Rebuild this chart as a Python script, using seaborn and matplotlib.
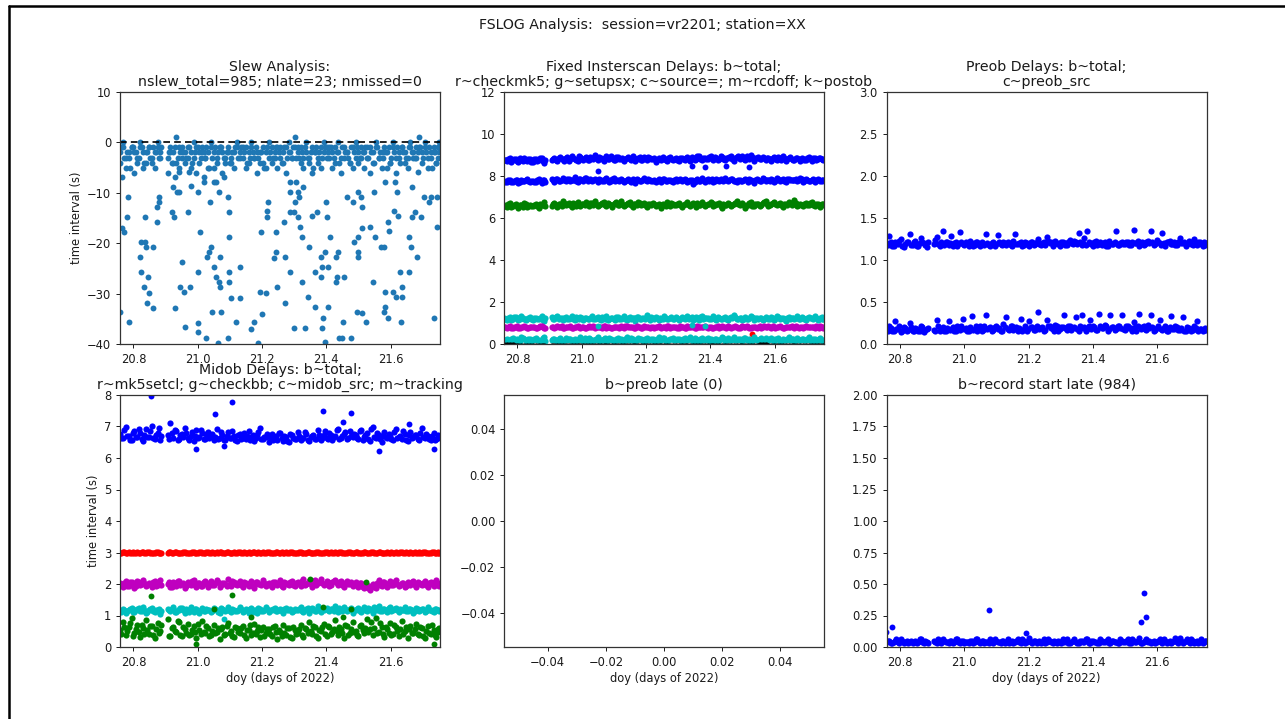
import numpy as np
import matplotlib
matplotlib.use("Agg")
import matplotlib.pyplot as plt
from matplotlib.lines import Line2D
import seaborn as sns

# ---------------- data ----------------
# scan times (doy) shared by the dense per-scan series (two interleaved sets)
scan_doy = [
    20.758, 20.767, 20.776, 20.785, 20.794, 20.803, 20.812, 20.821, 20.830, 20.839,
    20.848, 20.857, 20.866, 20.875, 20.884, 20.906, 20.915, 20.924, 20.933, 20.942,
    20.951, 20.960, 20.969, 20.978, 20.987, 20.996, 21.005, 21.014, 21.023, 21.032,
    21.041, 21.050, 21.059, 21.068, 21.077, 21.086, 21.095, 21.104, 21.113, 21.122,
    21.131, 21.140, 21.149, 21.158, 21.167, 21.176, 21.185, 21.194, 21.203, 21.212,
    21.221, 21.230, 21.239, 21.248, 21.257, 21.266, 21.275, 21.284, 21.293, 21.302,
    21.311, 21.320, 21.329, 21.338, 21.347, 21.356, 21.365, 21.374, 21.383, 21.392,
    21.401, 21.410, 21.419, 21.428, 21.437, 21.446, 21.455, 21.464, 21.473, 21.482,
    21.491, 21.500, 21.509, 21.518, 21.527, 21.536, 21.545, 21.554, 21.563, 21.572,
    21.581, 21.590, 21.599, 21.608, 21.617, 21.626, 21.635, 21.644, 21.653, 21.662,
    21.671, 21.680, 21.689, 21.698, 21.707, 21.716, 21.725, 21.734, 21.743, 21.752]
scan_doy_b = [
    20.762, 20.771, 20.780, 20.789, 20.798, 20.807, 20.816, 20.825, 20.834, 20.843,
    20.852, 20.861, 20.870, 20.879, 20.887, 20.910, 20.919, 20.928, 20.937, 20.946,
    20.955, 20.964, 20.973, 20.982, 20.991, 21.000, 21.009, 21.018, 21.027, 21.036,
    21.045, 21.054, 21.063, 21.072, 21.081, 21.090, 21.099, 21.108, 21.117, 21.126,
    21.135, 21.144, 21.153, 21.162, 21.171, 21.180, 21.189, 21.198, 21.207, 21.216,
    21.225, 21.234, 21.243, 21.252, 21.261, 21.270, 21.279, 21.288, 21.297, 21.306,
    21.315, 21.324, 21.333, 21.342, 21.351, 21.360, 21.369, 21.378, 21.387, 21.396,
    21.405, 21.414, 21.423, 21.432, 21.441, 21.450, 21.459, 21.468, 21.477, 21.486,
    21.495, 21.504, 21.513, 21.522, 21.531, 21.540, 21.549, 21.558, 21.567, 21.576,
    21.585, 21.594, 21.603, 21.612, 21.621, 21.630, 21.639, 21.648, 21.657, 21.666,
    21.675, 21.684, 21.693, 21.702, 21.711, 21.720, 21.729, 21.738, 21.747, 21.749]

# Slew analysis: slack (s) per slew
slew_band1 = [
    -2, -1, -3, -2, -1, -2, -3, -1, -2, -4,
    -1, -3, -2, -1, -2, -3, -1, -2, -4, -1,
    -3, -2, -1, -2, -3, -1, -2, -1, -3, -2,
    -1, -2, -3, -1, -2, -4, -1, -3, -2, -1,
    -2, -3, -1, -2, -1, -3, -2, -4, -1, -2,
    -3, -1, -2, -1, -3, -2, -1, -2, -3, -1,
    -2, -1, -3, -2, -4, -1, -2, -3, -1, -2,
    -1, -3, -2, -1, -2, -3, -1, -2, -4, -1,
    -3, -2, -1, -2, -3, -1, -2, -1, -3, -2,
    -1, -2, -4, -1, -3, -2, -1, -2, -3, -1,
    -2, -3, -1, -2, -1, -3, -2, -1, -4, -2]
slew_band2 = [
    -4, 0, -5, -3, -1, -6, -4, 0, -5, -2,
    -1, -4, -5, 0, -3, -6, -2, -4, 1, -5,
    -1, -4, -3, -5, 0, -6, -4, -2, -3, -5,
    0, -5, -4, -1, -6, -3, -2, -4, -5, 0,
    -3, -1, -5, -4, 0, -3, -6, -2, -4, -5,
    0, -4, -3, -5, -1, -4, -6, 0, -3, 1,
    -1, -4, -5, 0, -3, -6, -2, -4, -5, 0,
    -3, -1, -5, -4, 0, -6, -3, -2, -4, -5,
    0, -4, -3, -5, -1, -6, -4, 0, -3, -5,
    -2, -5, -4, 0, -6, -3, -1, -4, -5, 0,
    -3, -1, 1, -4, 0, -5, -3, -2, -4, 0]
slew_band3 = [
    -1, -3, -2, -5, -1, -2, -3, -1, -4, -2,
    -3, -1, -2, -3, -1, -2, -4, -1, -3, -2,
    -2, -3, -1, -4, -2, -1, -3, -2, -1, -5,
    -3, -1, -2, -1, -3, -2, -4, -2, -1, -3,
    -1, -2, -4, -3, -2, -1, -3, -2, -5, -1,
    -2, -3, -1, -2, -4, -1, -3, -2, -1, -3,
    -3, -2, -1, -3, -2, -5, -1, -2, -3, -1,
    -2, -1, -3, -2, -4, -1, -2, -3, -1, -2,
    -1, -3, -2, -1, -3, -2, -4, -1, -2, -3,
    -2, -1, -3, -2, -1, -4, -2, -3, -1, -2,
    -3, -2, -1, -3, -2, -1, -5, -2, -3, -1]
slew_late_doy = [
    20.763, 20.772, 20.784, 20.779, 20.759, 20.787, 20.823, 20.837, 20.839, 20.860,
    20.819, 20.822, 20.834, 20.841, 20.846, 20.847, 20.860, 20.836, 20.872, 20.872,
    20.878, 20.878, 20.919, 20.925, 20.922, 20.934, 20.941, 20.928, 20.951, 20.944,
    20.958, 20.961, 20.971, 20.979, 20.977, 21.002, 21.002, 21.007, 21.000, 21.002,
    21.026, 21.029, 21.034, 21.040, 21.044, 21.052, 21.058, 21.065, 21.068, 21.070,
    21.062, 21.073, 21.096, 21.097, 21.093, 21.037, 21.052, 21.067, 21.095, 21.097,
    21.098, 21.102, 21.119, 21.133, 21.131, 21.166, 21.174, 21.193, 21.197, 21.220,
    21.217, 21.215, 21.201, 21.187, 21.213, 21.243, 21.246, 20.763, 20.930, 20.943,
    20.974, 21.019, 21.021, 21.058, 21.083, 21.286, 21.306, 21.286, 21.313, 21.314,
    21.327, 21.303, 21.286, 21.299, 21.313, 21.317, 21.270, 21.244, 21.324, 21.346,
    21.272, 21.286, 21.272, 21.324, 21.343, 21.301, 21.335, 21.366, 21.366, 21.384,
    21.386, 21.405, 21.384, 21.395, 21.389, 21.386, 21.395, 21.405, 21.400, 21.403,
    21.412, 21.372, 21.356, 21.429, 21.438, 21.434, 21.455, 21.431, 21.452, 21.449,
    21.478, 21.466, 21.483, 21.499, 21.508, 21.512, 21.510, 21.487, 21.499, 21.499,
    21.499, 21.535, 21.497, 21.512, 21.523, 21.547, 21.552, 21.569, 21.579, 21.548,
    21.582, 21.592, 21.594, 21.610, 21.622, 21.619, 21.614, 21.584, 21.582, 21.579,
    21.591, 21.607, 21.617, 21.637, 21.632, 21.637, 21.631, 21.659, 21.665, 21.659,
    21.683, 21.667, 21.675, 21.695, 21.667, 21.687, 21.704, 21.719, 21.727, 21.746,
    21.746, 21.734, 21.441, 21.237]
slew_late_val = [
    -17.0, -17.7, -10.8, -14.9, -33.7, -35.6, -19.8, -19.8, -20.8, -20.8,
    -22.8, -25.7, -28.7, -31.8, -26.7, -29.8, -32.8, -14.9, -15.8, -12.9,
    -11.9, -10.8, -13.9, -14.9, -8.8, -9.8, -9.8, -32.8, -23.8, -28.6,
    -29.7, -36.6, -13.9, -8.7, -28.7, -37.6, -35.8, -17.7, -9.8, -25.7,
    -38.8, -22.8, -21.8, -20.8, -33.7, -24.8, -26.7, -27.7, -28.7, -22.8,
    -39.8, -33.7, -25.7, -27.7, -38.8, -11.8, -7.9, -9.8, -10.8, -13.9,
    -18.7, -30.8, -35.6, -30.8, -24.8, -37.0, -35.6, -29.7, -17.7, -11.8,
    -13.7, -14.9, -34.0, -39.8, -29.9, -17.7, -28.7, -6.8, -6.8, -5.8,
    -5.9, -6.8, -7.8, -7.8, -6.8, -7.8, -7.8, -9.8, -9.8, -10.8,
    -8.8, -11.9, -13.9, -13.9, -14.9, -16.7, -15.8, -21.8, -18.8, -20.8,
    -22.8, -25.7, -31.8, -27.7, -30.7, -36.8, -36.8, -32.7, -25.7, -26.7,
    -24.8, -24.8, -22.8, -21.7, -34.9, -36.8, -39.6, -32.7, -11.9, -14.9,
    -18.8, -13.9, -14.7, -22.8, -21.8, -26.7, -26.7, -27.7, -35.6, -38.8,
    -38.8, -10.9, -11.9, -9.9, -10.8, -12.9, -16.9, -19.7, -18.7, -21.8,
    -22.8, -16.7, -33.7, -33.9, -35.6, -27.7, -18.8, -20.8, -20.8, -9.8,
    -7.8, -15.8, -17.5, -13.7, -14.7, -9.9, -7.8, -29.7, -32.7, -33.7,
    -34.9, -29.7, -30.7, -30.7, -35.6, -28.7, -25.7, -25.7, -20.8, -18.8,
    -22.8, -14.9, -13.9, -14.9, -8.8, -5.8, -10.9, -11.9, -10.9, -10.9,
    -16.7, -34.9, -38.8, -22.9]

# Fixed interscan delays (s)
fixed_total_hi = [
    8.78, 8.70, 8.85, 8.74, 8.81, 8.68, 8.77, 8.86, 8.72, 8.80,
    8.69, 8.83, 8.75, 8.88, 8.62, 8.76, 8.84, 8.71, 8.90, 8.79,
    8.86, 8.73, 8.95, 8.81, 8.70, 8.89, 8.77, 8.92, 8.74, 8.85,
    8.98, 8.78, 8.87, 8.72, 8.93, 8.80, 8.86, 8.75, 8.91, 8.82,
    8.73, 8.88, 8.79, 8.94, 8.71, 8.84, 8.77, 8.90, 8.74, 8.86,
    8.80, 8.69, 8.87, 8.76, 8.83, 8.72, 8.89, 8.78, 8.85, 8.70,
    8.84, 8.77, 8.91, 8.73, 8.86, 8.79, 8.94, 8.75, 8.88, 8.81,
    8.96, 8.74, 8.87, 8.80, 8.92, 8.76, 8.85, 8.97, 8.73, 8.89,
    8.82, 8.93, 8.75, 8.88, 8.99, 8.70, 8.86, 8.79, 8.91, 8.74,
    8.85, 8.72, 8.89, 8.78, 8.84, 8.95, 8.71, 8.87, 8.80, 8.76,
    8.88, 8.73, 8.83, 8.77, 8.90, 8.72, 8.86, 8.79, 8.84, 8.75]
fixed_total_hi_b = [
    8.74, 8.82, 8.69, 8.79, 8.72, 8.84, 8.70, 8.77, 8.81, 8.68,
    8.80, 8.73, 8.86, 8.71, 8.78, 8.83, 8.75, 8.88, 8.80, 8.73,
    8.90, 8.79, 8.84, 8.76, 8.93, 8.82, 8.87, 8.78, 8.91, 8.80,
    8.85, 8.92, 8.79, 8.88, 8.82, 8.95, 8.77, 8.89, 8.83, 8.87,
    8.80, 8.91, 8.76, 8.86, 8.81, 8.89, 8.78, 8.84, 8.92, 8.79,
    8.85, 8.76, 8.82, 8.90, 8.74, 8.86, 8.80, 8.83, 8.77, 8.88,
    8.79, 8.86, 8.82, 8.90, 8.78, 8.93, 8.81, 8.86, 8.79, 8.91,
    8.84, 8.89, 8.78, 8.94, 8.82, 8.87, 8.91, 8.80, 8.86, 8.93,
    8.87, 8.80, 8.95, 8.83, 8.90, 8.85, 8.92, 8.81, 8.88, 8.84,
    8.79, 8.87, 8.82, 8.91, 8.77, 8.86, 8.83, 8.90, 8.78, 8.85,
    8.81, 8.88, 8.76, 8.85, 8.80, 8.87, 8.78, 8.84, 8.79, 8.82]
fixed_total_lo = [
    7.76, 7.70, 7.83, 7.72, 7.79, 7.68, 7.81, 7.74, 7.86, 7.71,
    7.78, 7.73, 7.84, 7.69, 7.80, 7.88, 7.72, 7.85, 7.77, 7.91,
    7.74, 7.86, 7.79, 7.93, 7.71, 7.84, 7.76, 7.89, 7.82, 7.75,
    7.87, 7.73, 7.83, 7.78, 7.92, 7.70, 7.85, 7.76, 7.81, 7.88,
    7.72, 7.80, 7.75, 7.86, 7.69, 7.83, 7.77, 7.90, 7.74, 7.82,
    7.78, 7.71, 7.85, 7.73, 7.88, 7.76, 7.81, 7.70, 7.84, 7.79,
    7.74, 7.87, 7.72, 7.83, 7.64, 7.80, 7.76, 7.89, 7.73, 7.85,
    7.79, 7.71, 7.86, 7.75, 7.82, 7.92, 7.74, 7.84, 7.78, 7.70,
    7.83, 7.76, 7.88, 7.72, 7.81, 7.69, 7.85, 7.77, 7.90, 7.74,
    7.80, 7.86, 7.73, 7.91, 7.75, 7.84, 7.71, 7.87, 7.79, 7.83,
    7.76, 7.89, 7.72, 7.85, 7.78, 7.82, 7.70, 7.86, 7.74, 7.80]
fixed_total_lo_b = [
    7.73, 7.79, 7.70, 7.76, 7.82, 7.71, 7.77, 7.80, 7.74, 7.78,
    7.72, 7.81, 7.75, 7.79, 7.71, 7.80, 7.86, 7.76, 7.83, 7.79,
    7.88, 7.78, 7.83, 7.75, 7.86, 7.80, 7.90, 7.77, 7.84, 7.81,
    7.79, 7.84, 7.76, 7.87, 7.81, 7.78, 7.89, 7.80, 7.75, 7.83,
    7.78, 7.85, 7.73, 7.81, 7.88, 7.76, 7.82, 7.79, 7.86, 7.77,
    7.82, 7.75, 7.80, 7.87, 7.78, 7.83, 7.74, 7.81, 7.76, 7.85,
    7.79, 7.83, 7.76, 7.80, 7.72, 7.84, 7.78, 7.82, 7.80, 7.77,
    7.84, 7.78, 7.81, 7.88, 7.76, 7.83, 7.79, 7.86, 7.74, 7.80,
    7.77, 7.82, 7.79, 7.85, 7.75, 7.80, 7.83, 7.78, 7.84, 7.81,
    7.76, 7.83, 7.78, 7.85, 7.80, 7.77, 7.88, 7.79, 7.82, 7.86,
    7.80, 7.84, 7.77, 7.82, 7.75, 7.86, 7.79, 7.81, 7.78, 7.83]
fixed_setupsx = [
    6.62, 6.51, 6.70, 6.55, 6.66, 6.48, 6.60, 6.72, 6.53, 6.64,
    6.57, 6.69, 6.50, 6.63, 6.75, 6.58, 6.71, 6.54, 6.67, 6.80,
    6.60, 6.73, 6.52, 6.68, 6.78, 6.56, 6.65, 6.74, 6.59, 6.70,
    6.82, 6.55, 6.66, 6.76, 6.58, 6.69, 6.51, 6.72, 6.63, 6.79,
    6.57, 6.68, 6.74, 6.54, 6.65, 6.77, 6.60, 6.71, 6.52, 6.66,
    6.73, 6.58, 6.69, 6.49, 6.64, 6.75, 6.56, 6.67, 6.61, 6.72,
    6.54, 6.66, 6.78, 6.59, 6.70, 6.52, 6.63, 6.74, 6.57, 6.68,
    6.76, 6.55, 6.65, 6.71, 6.50, 6.62, 6.73, 6.58, 6.69, 6.79,
    6.61, 6.72, 6.47, 6.64, 6.75, 6.56, 6.68, 6.59, 6.70, 6.81,
    6.57, 6.67, 6.74, 6.60, 6.71, 6.53, 6.66, 6.78, 6.62, 6.84,
    6.58, 6.69, 6.55, 6.73, 6.63, 6.76, 6.59, 6.68, 6.54, 6.65]
fixed_setupsx_b = [
    6.58, 6.66, 6.54, 6.61, 6.57, 6.64, 6.52, 6.67, 6.59, 6.56,
    6.63, 6.55, 6.66, 6.60, 6.58, 6.65, 6.61, 6.68, 6.57, 6.71,
    6.66, 6.62, 6.70, 6.58, 6.64, 6.69, 6.61, 6.67, 6.73, 6.63,
    6.68, 6.61, 6.72, 6.64, 6.70, 6.62, 6.66, 6.75, 6.60, 6.69,
    6.64, 6.71, 6.60, 6.67, 6.63, 6.70, 6.65, 6.62, 6.69, 6.61,
    6.67, 6.63, 6.60, 6.68, 6.58, 6.65, 6.70, 6.62, 6.66, 6.64,
    6.61, 6.69, 6.64, 6.66, 6.60, 6.71, 6.63, 6.67, 6.62, 6.65,
    6.70, 6.63, 6.68, 6.58, 6.66, 6.64, 6.69, 6.61, 6.72, 6.65,
    6.67, 6.62, 6.60, 6.70, 6.55, 6.65, 6.68, 6.63, 6.74, 6.66,
    6.62, 6.71, 6.65, 6.68, 6.63, 6.69, 6.60, 6.73, 6.66, 6.70,
    6.64, 6.61, 6.67, 6.63, 6.70, 6.62, 6.66, 6.60, 6.68, 6.64]
fixed_source_hi = [
    1.25, 1.15, 1.30, 1.19, 1.27, 1.12, 1.33, 1.21, 1.17, 1.29,
    1.14, 1.26, 1.20, 1.31, 1.10, 1.28, 1.18, 1.35, 1.22, 1.13,
    1.27, 1.19, 1.32, 1.15, 1.24, 1.30, 1.12, 1.26, 1.21, 1.34,
    1.17, 1.28, 1.13, 1.25, 1.31, 1.19, 1.23, 1.14, 1.29, 1.20,
    1.33, 1.16, 1.27, 1.22, 1.11, 1.30, 1.18, 1.25, 1.36, 1.15,
    1.24, 1.29, 1.13, 1.21, 1.32, 1.17, 1.26, 1.20, 1.30, 1.14,
    1.27, 1.19, 1.34, 1.23, 1.12, 1.28, 1.16, 1.31, 1.22, 1.25,
    1.18, 1.33, 1.14, 1.26, 1.21, 1.30, 1.15, 1.28, 1.37, 1.20,
    1.24, 1.12, 1.29, 1.19, 1.32, 1.16, 1.26, 1.22, 1.13, 1.30,
    1.21, 1.27, 1.15, 1.33, 1.18, 1.25, 1.11, 1.29, 1.23, 1.17,
    1.31, 1.20, 1.26, 1.14, 1.28, 1.22, 1.34, 1.16, 1.25, 1.19]
fixed_source_hi_b = [
    1.20, 1.24, 1.16, 1.27, 1.22, 1.18, 1.25, 1.14, 1.23, 1.20,
    1.26, 1.18, 1.23, 1.16, 1.24, 1.21, 1.29, 1.19, 1.25, 1.22,
    1.18, 1.25, 1.21, 1.28, 1.17, 1.22, 1.26, 1.19, 1.24, 1.20,
    1.23, 1.19, 1.27, 1.21, 1.16, 1.24, 1.20, 1.28, 1.18, 1.25,
    1.21, 1.26, 1.18, 1.23, 1.28, 1.20, 1.24, 1.17, 1.22, 1.27,
    1.19, 1.23, 1.26, 1.18, 1.24, 1.21, 1.29, 1.17, 1.23, 1.20,
    1.25, 1.22, 1.18, 1.27, 1.20, 1.24, 1.29, 1.19, 1.26, 1.21,
    1.23, 1.19, 1.28, 1.21, 1.25, 1.17, 1.24, 1.22, 1.27, 1.20,
    1.26, 1.21, 1.19, 1.24, 1.28, 1.22, 1.18, 1.25, 1.20, 1.23,
    1.18, 1.24, 1.21, 1.27, 1.22, 1.19, 1.26, 1.20, 1.25, 1.23,
    1.21, 1.27, 1.19, 1.24, 1.22, 1.18, 1.25, 1.21, 1.28, 1.20]
fixed_rcdoff = [
    0.80, 0.76, 0.84, 0.78, 0.82, 0.75, 0.81, 0.85, 0.77, 0.83,
    0.79, 0.74, 0.82, 0.86, 0.78, 0.81, 0.76, 0.84, 0.80, 0.77,
    0.83, 0.79, 0.75, 0.82, 0.86, 0.78, 0.81, 0.77, 0.84, 0.80,
    0.76, 0.83, 0.79, 0.85, 0.78, 0.81, 0.74, 0.82, 0.80, 0.86,
    0.77, 0.84, 0.79, 0.81, 0.75, 0.83, 0.78, 0.86, 0.80, 0.76,
    0.82, 0.79, 0.85, 0.77, 0.81, 0.84, 0.76, 0.80, 0.83, 0.78,
    0.81, 0.75, 0.84, 0.79, 0.86, 0.77, 0.82, 0.80, 0.85, 0.76,
    0.83, 0.78, 0.81, 0.74, 0.84, 0.80, 0.86, 0.77, 0.82, 0.79,
    0.76, 0.85, 0.80, 0.83, 0.78, 0.81, 0.75, 0.84, 0.79, 0.82,
    0.86, 0.77, 0.81, 0.79, 0.84, 0.76, 0.82, 0.80, 0.85, 0.78,
    0.80, 0.83, 0.77, 0.84, 0.79, 0.81, 0.75, 0.82, 0.86, 0.78]
fixed_rcdoff_b = [
    0.79, 0.83, 0.77, 0.81, 0.84, 0.78, 0.82, 0.80, 0.76, 0.83,
    0.81, 0.78, 0.84, 0.80, 0.77, 0.83, 0.79, 0.82, 0.85, 0.78,
    0.80, 0.84, 0.78, 0.81, 0.79, 0.83, 0.77, 0.82, 0.80, 0.85,
    0.79, 0.82, 0.76, 0.84, 0.81, 0.78, 0.83, 0.80, 0.77, 0.82,
    0.84, 0.79, 0.82, 0.77, 0.85, 0.80, 0.78, 0.83, 0.81, 0.79,
    0.77, 0.83, 0.80, 0.82, 0.78, 0.85, 0.79, 0.81, 0.76, 0.84,
    0.80, 0.78, 0.83, 0.81, 0.77, 0.84, 0.79, 0.82, 0.80, 0.83,
    0.78, 0.82, 0.85, 0.79, 0.81, 0.77, 0.83, 0.80, 0.84, 0.78,
    0.82, 0.79, 0.84, 0.77, 0.81, 0.83, 0.80, 0.78, 0.85, 0.79,
    0.81, 0.84, 0.78, 0.82, 0.80, 0.77, 0.83, 0.79, 0.81, 0.84,
    0.78, 0.81, 0.83, 0.79, 0.82, 0.80, 0.84, 0.77, 0.81, 0.80]
fixed_source_lo = [
    0.18, 0.25, 0.12, 0.28, 0.20, 0.15, 0.31, 0.22, 0.10, 0.26,
    0.17, 0.29, 0.21, 0.13, 0.33, 0.19, 0.24, 0.11, 0.27, 0.16,
    0.30, 0.22, 0.14, 0.26, 0.18, 0.32, 0.12, 0.23, 0.28, 0.15,
    0.21, 0.34, 0.17, 0.25, 0.11, 0.29, 0.20, 0.14, 0.27, 0.23,
    0.16, 0.31, 0.19, 0.24, 0.13, 0.28, 0.22, 0.10, 0.30, 0.18,
    0.25, 0.15, 0.33, 0.20, 0.27, 0.12, 0.23, 0.29, 0.17, 0.26,
    0.14, 0.28, 0.21, 0.32, 0.16, 0.24, 0.11, 0.27, 0.19, 0.30,
    0.22, 0.13, 0.26, 0.18, 0.31, 0.15, 0.29, 0.20, 0.35, 0.17,
    0.24, 0.12, 0.28, 0.21, 0.16, 0.33, 0.19, 0.25, 0.14, 0.27,
    0.20, 0.30, 0.15, 0.23, 0.11, 0.26, 0.18, 0.32, 0.22, 0.13,
    0.28, 0.17, 0.25, 0.20, 0.31, 0.14, 0.24, 0.19, 0.27, 0.16]
fixed_source_lo_b = [
    0.21, 0.14, 0.26, 0.18, 0.23, 0.12, 0.27, 0.17, 0.22, 0.15,
    0.24, 0.19, 0.13, 0.28, 0.16, 0.22, 0.19, 0.25, 0.14, 0.21,
    0.17, 0.26, 0.20, 0.15, 0.24, 0.18, 0.27, 0.13, 0.22, 0.19,
    0.25, 0.16, 0.21, 0.28, 0.18, 0.23, 0.15, 0.26, 0.20, 0.12,
    0.22, 0.18, 0.27, 0.15, 0.21, 0.24, 0.17, 0.26, 0.19, 0.23,
    0.16, 0.22, 0.19, 0.27, 0.14, 0.21, 0.25, 0.18, 0.23, 0.20,
    0.26, 0.17, 0.23, 0.19, 0.28, 0.15, 0.22, 0.20, 0.25, 0.16,
    0.19, 0.24, 0.15, 0.22, 0.27, 0.18, 0.21, 0.26, 0.17, 0.23,
    0.20, 0.27, 0.18, 0.24, 0.13, 0.22, 0.19, 0.28, 0.21, 0.16,
    0.25, 0.18, 0.22, 0.27, 0.16, 0.21, 0.24, 0.19, 0.26, 0.20,
    0.17, 0.23, 0.20, 0.26, 0.18, 0.22, 0.15, 0.24, 0.21, 0.19]
fixed_postob = [
    -0.03, -0.04, -0.05, -0.03, -0.08, -0.09, -0.10, -0.08, -0.09, -0.10,
    -0.09, -0.08, -0.10, -0.09, -0.08, -0.10, -0.09, -0.08, -0.10, -0.09,
    -0.08, -0.10, -0.09, -0.08, -0.10, -0.09, -0.08, -0.10, -0.09, -0.08,
    -0.10, -0.09, -0.08, -0.10, -0.09, -0.08, -0.10, -0.09, -0.08, -0.10,
    -0.09, -0.08, -0.10, -0.09, -0.08, -0.10, -0.09, -0.08, -0.10, -0.09,
    -0.08, -0.10, -0.09, -0.08, -0.10, -0.09, -0.08, -0.10, -0.09, -0.08,
    -0.10, -0.09, -0.08, -0.10, -0.09, -0.08, -0.10, -0.09, -0.08, -0.10,
    -0.09, -0.08, -0.10, -0.09, -0.08, -0.10, -0.09, -0.08, -0.10, -0.09,
    -0.08, -0.10, -0.09, -0.08, -0.10, -0.09, -0.08, -0.03, -0.04, -0.03,
    -0.10, -0.09, -0.08, -0.10, -0.09, -0.08, -0.10, -0.09, -0.08, -0.10,
    -0.09, -0.08, -0.10, -0.09, -0.08, -0.10, -0.09, -0.08, -0.10, -0.09]
fixed_total_out_doy = [21.050, 21.344, 21.385, 21.450, 21.520]
fixed_total_out_val = [8.25, 8.48, 8.41, 8.48, 8.41]
fixed_source_out_doy = [21.050, 21.344, 21.385]
fixed_source_out_val = [0.84, 0.90, 0.85]
fixed_checkmk5_doy = [21.530]
fixed_checkmk5_val = [0.46]

# Preob delays (s)
preob_total = [
    1.20, 1.28, 1.17, 1.22, 1.19, 1.25, 1.16, 1.21, 1.31, 1.18,
    1.23, 1.17, 1.26, 1.20, 1.16, 1.19, 1.27, 1.17, 1.34, 1.21,
    1.18, 1.29, 1.20, 1.17, 1.33, 1.19, 1.22, 1.17, 1.20, 1.18,
    1.21, 1.17, 1.19, 1.31, 1.18, 1.20, 1.17, 1.30, 1.19, 1.22,
    1.18, 1.20, 1.17, 1.31, 1.19, 1.21, 1.18, 1.20, 1.17, 1.22,
    1.19, 1.25, 1.18, 1.21, 1.27, 1.20, 1.17, 1.23, 1.19, 1.22,
    1.20, 1.18, 1.24, 1.19, 1.21, 1.32, 1.18, 1.26, 1.34, 1.20,
    1.17, 1.23, 1.19, 1.18, 1.21, 1.17, 1.20, 1.19, 1.34, 1.18,
    1.21, 1.19, 1.22, 1.18, 1.36, 1.20, 1.17, 1.21, 1.19, 1.23,
    1.34, 1.18, 1.24, 1.20, 1.32, 1.17, 1.21, 1.19, 1.22, 1.18,
    1.26, 1.20, 1.17, 1.23, 1.19, 1.25, 1.18, 1.21, 1.17, 1.20]
preob_total_b = [
    1.18, 1.22, 1.17, 1.20, 1.23, 1.17, 1.19, 1.22, 1.18, 1.21,
    1.17, 1.20, 1.22, 1.18, 1.21, 1.24, 1.19, 1.21, 1.18, 1.22,
    1.20, 1.17, 1.22, 1.19, 1.21, 1.18, 1.20, 1.23, 1.17, 1.21,
    1.19, 1.22, 1.18, 1.20, 1.17, 1.21, 1.19, 1.22, 1.18, 1.20,
    1.21, 1.18, 1.23, 1.19, 1.20, 1.17, 1.22, 1.19, 1.21, 1.18,
    1.22, 1.19, 1.20, 1.18, 1.23, 1.21, 1.19, 1.20, 1.17, 1.22,
    1.18, 1.21, 1.20, 1.23, 1.19, 1.22, 1.20, 1.18, 1.21, 1.19,
    1.22, 1.18, 1.21, 1.20, 1.17, 1.23, 1.19, 1.21, 1.18, 1.20,
    1.19, 1.22, 1.18, 1.21, 1.20, 1.23, 1.19, 1.18, 1.22, 1.20,
    1.21, 1.19, 1.22, 1.18, 1.20, 1.21, 1.23, 1.19, 1.18, 1.21,
    1.20, 1.22, 1.19, 1.21, 1.18, 1.20, 1.22, 1.19, 1.21, 1.18]
preob_src = [
    0.17, 0.22, 0.15, 0.27, 0.18, 0.14, 0.20, 0.16, 0.25, 0.15,
    0.19, 0.16, 0.21, 0.14, 0.18, 0.17, 0.29, 0.15, 0.20, 0.16,
    0.27, 0.18, 0.15, 0.21, 0.17, 0.30, 0.19, 0.16, 0.33, 0.18,
    0.15, 0.22, 0.17, 0.35, 0.19, 0.16, 0.20, 0.18, 0.15, 0.24,
    0.32, 0.17, 0.21, 0.19, 0.16, 0.30, 0.18, 0.15, 0.27, 0.20,
    0.17, 0.38, 0.19, 0.16, 0.29, 0.21, 0.18, 0.23, 0.15, 0.20,
    0.35, 0.17, 0.22, 0.19, 0.32, 0.16, 0.35, 0.20, 0.18, 0.28,
    0.21, 0.17, 0.36, 0.19, 0.23, 0.16, 0.34, 0.20, 0.18, 0.22,
    0.35, 0.17, 0.21, 0.19, 0.26, 0.16, 0.36, 0.20, 0.18, 0.23,
    0.34, 0.15, 0.19, 0.28, 0.17, 0.21, 0.16, 0.33, 0.18, 0.20,
    0.17, 0.32, 0.15, 0.19, 0.16, 0.21, 0.27, 0.18, 0.15, 0.17]
preob_src_b = [
    0.16, 0.19, 0.15, 0.18, 0.21, 0.16, 0.19, 0.17, 0.20, 0.16,
    0.18, 0.15, 0.20, 0.17, 0.19, 0.16, 0.21, 0.18, 0.16, 0.19,
    0.17, 0.20, 0.16, 0.19, 0.22, 0.18, 0.16, 0.20, 0.17, 0.21,
    0.19, 0.16, 0.21, 0.18, 0.20, 0.17, 0.22, 0.19, 0.16, 0.20,
    0.18, 0.21, 0.17, 0.20, 0.19, 0.16, 0.22, 0.18, 0.20, 0.17,
    0.21, 0.18, 0.20, 0.17, 0.22, 0.19, 0.16, 0.21, 0.18, 0.20,
    0.19, 0.22, 0.17, 0.20, 0.18, 0.21, 0.19, 0.16, 0.22, 0.18,
    0.20, 0.17, 0.21, 0.19, 0.22, 0.18, 0.20, 0.17, 0.21, 0.19,
    0.18, 0.21, 0.19, 0.16, 0.20, 0.22, 0.18, 0.21, 0.17, 0.19,
    0.20, 0.17, 0.21, 0.18, 0.19, 0.16, 0.20, 0.18, 0.21, 0.17,
    0.19, 0.16, 0.20, 0.18, 0.17, 0.19, 0.16, 0.18, 0.17, 0.19]

# Midob delays (s)
midob_total = [
    6.75, 6.62, 6.98, 6.70, 6.58, 6.85, 6.66, 6.79, 6.55, 6.92,
    6.68, 7.02, 6.61, 6.80, 6.57, 6.72, 7.10, 6.64, 6.86, 6.59,
    6.76, 6.95, 6.63, 6.70, 6.54, 6.88, 6.67, 6.78, 6.60, 6.83,
    6.69, 6.56, 6.92, 6.65, 6.74, 6.58, 6.81, 6.62, 6.71, 6.53,
    6.77, 6.64, 6.59, 6.85, 6.68, 6.55, 6.73, 6.96, 6.61, 6.66,
    6.52, 6.75, 6.63, 6.58, 6.79, 6.55, 6.68, 6.50, 6.72, 6.60,
    6.83, 6.57, 6.65, 6.76, 6.54, 6.69, 6.61, 6.88, 6.58, 6.73,
    6.64, 6.80, 6.56, 6.70, 6.93, 6.62, 6.75, 6.59, 6.86, 6.67,
    6.72, 6.60, 6.90, 6.66, 6.78, 6.55, 6.98, 6.63, 6.74, 6.52,
    6.81, 6.64, 6.70, 6.57, 6.93, 6.68, 6.61, 6.76, 6.55, 6.84,
    6.66, 6.72, 6.58, 6.95, 6.63, 6.70, 6.56, 6.79, 6.61, 6.67]
midob_total_b = [
    6.62, 6.88, 6.70, 6.57, 6.80, 6.66, 6.93, 6.60, 6.74, 6.68,
    6.85, 6.63, 6.72, 6.95, 6.69, 6.61, 6.78, 6.88, 6.56, 6.73,
    6.66, 6.79, 6.58, 6.84, 6.71, 6.62, 6.90, 6.59, 6.75, 6.64,
    6.77, 6.68, 6.60, 6.82, 6.57, 6.70, 6.63, 6.86, 6.58, 6.72,
    6.61, 6.78, 6.70, 6.56, 6.74, 6.63, 6.82, 6.59, 6.68, 6.76,
    6.66, 6.58, 6.71, 6.80, 6.62, 6.69, 6.55, 6.77, 6.64, 6.59,
    6.70, 6.63, 6.81, 6.58, 6.67, 6.74, 6.60, 6.72, 6.65, 6.85,
    6.59, 6.72, 6.66, 6.88, 6.61, 6.69, 6.83, 6.64, 6.71, 6.76,
    6.63, 6.85, 6.58, 6.74, 6.60, 6.92, 6.66, 6.78, 6.61, 6.70,
    6.67, 6.76, 6.60, 6.82, 6.63, 6.71, 6.87, 6.58, 6.74, 6.65,
    6.72, 6.59, 6.80, 6.66, 6.75, 6.61, 6.69, 6.57, 6.73, 6.62]
midob_mk5setcl = [
    3.00, 3.02, 2.99, 3.01, 3.00, 2.98, 3.02, 3.00, 3.01, 2.99,
    3.01, 3.00, 2.98, 3.02, 3.00, 2.99, 3.01, 3.00, 3.02, 2.98,
    3.00, 3.01, 2.99, 3.00, 3.02, 2.98, 3.01, 3.00, 2.99, 3.02,
    2.99, 3.00, 3.02, 3.01, 2.98, 3.00, 3.01, 2.99, 3.02, 3.00,
    3.01, 2.98, 3.00, 3.02, 2.99, 3.01, 3.00, 2.98, 3.01, 3.00,
    3.02, 3.00, 2.99, 3.01, 3.00, 2.98, 3.02, 3.00, 3.01, 2.99,
    3.00, 3.02, 2.98, 3.00, 3.01, 2.99, 3.00, 3.02, 3.00, 2.98,
    3.01, 3.00, 2.99, 3.02, 3.00, 3.01, 2.98, 3.00, 3.01, 2.99,
    3.02, 3.00, 2.98, 3.01, 3.00, 2.99, 3.02, 3.00, 3.01, 2.98,
    3.00, 3.01, 2.99, 3.00, 3.02, 2.98, 3.01, 3.00, 2.99, 3.02,
    3.00, 2.98, 3.01, 3.00, 3.02, 2.99, 3.00, 3.01, 2.98, 3.00]
midob_mk5setcl_b = [
    2.99, 3.01, 3.00, 2.98, 3.02, 3.00, 2.99, 3.01, 3.00, 3.02,
    3.00, 2.99, 3.01, 3.00, 2.98, 3.02, 3.00, 3.01, 2.99, 3.00,
    3.02, 2.99, 3.00, 3.01, 2.98, 3.00, 3.02, 2.99, 3.01, 3.00,
    3.01, 2.98, 3.00, 3.02, 2.99, 3.01, 3.00, 2.98, 3.00, 3.02,
    2.99, 3.01, 3.00, 2.98, 3.02, 3.00, 3.01, 2.99, 3.00, 3.02,
    3.00, 2.98, 3.01, 3.00, 3.02, 2.99, 3.00, 3.01, 2.98, 3.00,
    3.02, 3.00, 2.99, 3.01, 3.00, 2.98, 3.02, 3.00, 2.99, 3.01,
    3.00, 3.02, 2.98, 3.00, 3.01, 2.99, 3.00, 3.02, 3.00, 2.98,
    3.01, 2.99, 3.00, 3.02, 2.98, 3.01, 3.00, 2.99, 3.02, 3.00,
    2.98, 3.00, 3.01, 2.99, 3.00, 3.02, 2.98, 3.01, 3.00, 2.99,
    3.01, 3.00, 2.99, 3.02, 3.00, 2.98, 3.01, 3.00, 3.02, 2.99]
midob_tracking = [
    2.02, 1.90, 2.10, 1.95, 2.05, 1.88, 2.08, 1.97, 2.12, 1.93,
    2.04, 1.91, 2.09, 1.96, 2.13, 1.99, 1.89, 2.07, 1.94, 2.11,
    2.01, 1.87, 2.06, 1.98, 2.14, 1.92, 2.03, 1.95, 2.10, 1.90,
    2.08, 1.96, 2.12, 1.89, 2.04, 1.99, 2.15, 1.93, 2.06, 1.97,
    2.11, 1.91, 2.02, 1.95, 2.09, 1.88, 2.05, 2.00, 2.13, 1.94,
    2.03, 1.90, 2.07, 1.96, 2.12, 1.92, 2.04, 1.98, 2.10, 1.93,
    2.06, 1.95, 2.15, 1.99, 2.08, 1.91, 2.13, 2.02, 2.16, 1.96,
    2.10, 1.93, 2.05, 2.14, 1.97, 2.09, 1.92, 2.11, 2.00, 1.95,
    2.07, 1.90, 2.03, 1.86, 1.98, 1.82, 2.01, 1.88, 2.12, 1.94,
    2.05, 1.91, 2.09, 1.97, 2.13, 1.93, 2.02, 1.89, 2.07, 1.96,
    2.11, 1.92, 2.04, 1.98, 2.10, 1.90, 2.06, 1.95, 2.12, 1.93]
midob_tracking_b = [
    1.98, 2.04, 1.93, 2.07, 2.00, 1.95, 2.06, 1.99, 2.03, 1.96,
    2.01, 2.07, 1.94, 2.03, 1.98, 2.05, 1.92, 2.02, 2.08, 1.97,
    2.04, 1.95, 2.01, 2.09, 1.97, 2.03, 1.93, 2.06, 1.99, 2.04,
    1.96, 2.02, 2.07, 1.98, 2.04, 1.94, 2.01, 2.08, 1.99, 2.03,
    1.97, 2.05, 1.99, 2.02, 1.95, 2.06, 2.00, 1.96, 2.04, 2.01,
    1.98, 2.06, 2.00, 2.03, 1.94, 2.05, 1.99, 2.07, 1.97, 2.02,
    2.00, 2.09, 1.96, 2.04, 2.01, 2.11, 1.98, 2.06, 2.03, 2.00,
    2.05, 1.98, 2.09, 2.02, 2.06, 1.97, 2.03, 1.99, 2.07, 2.01,
    1.96, 2.04, 1.91, 1.99, 1.88, 1.95, 1.92, 2.02, 1.97, 2.05,
    1.99, 2.03, 1.96, 2.06, 2.00, 1.97, 2.04, 1.95, 2.01, 2.05,
    1.98, 2.06, 1.99, 2.03, 1.96, 2.04, 2.00, 2.07, 1.97, 2.02]
midob_src = [
    1.15, 1.22, 1.08, 1.18, 1.25, 1.10, 1.20, 1.13, 1.27, 1.09,
    1.17, 1.24, 1.11, 1.19, 1.06, 1.21, 1.14, 1.26, 1.10, 1.18,
    1.23, 1.09, 1.16, 1.28, 1.12, 1.20, 1.07, 1.25, 1.14, 1.19,
    1.11, 1.24, 1.17, 1.08, 1.22, 1.13, 1.27, 1.10, 1.19, 1.15,
    1.26, 1.12, 1.20, 1.09, 1.23, 1.16, 1.07, 1.21, 1.14, 1.28,
    1.10, 1.18, 1.25, 1.13, 1.21, 1.08, 1.24, 1.16, 1.11, 1.22,
    1.19, 1.27, 1.12, 1.20, 1.09, 1.23, 1.15, 1.29, 1.11, 1.18,
    1.24, 1.13, 1.21, 1.30, 1.10, 1.19, 1.26, 1.14, 1.22, 1.08,
    1.17, 1.25, 1.12, 1.28, 1.15, 1.21, 1.09, 1.24, 1.31, 1.13,
    1.20, 1.10, 1.26, 1.16, 1.23, 1.11, 1.19, 1.27, 1.13, 1.21,
    1.08, 1.24, 1.15, 1.20, 1.12, 1.26, 1.17, 1.10, 1.22, 1.14]
midob_src_b = [
    1.12, 1.19, 1.14, 1.21, 1.10, 1.17, 1.23, 1.15, 1.19, 1.12,
    1.20, 1.14, 1.17, 1.22, 1.13, 1.16, 1.20, 1.11, 1.18, 1.23,
    1.16, 1.20, 1.12, 1.18, 1.22, 1.15, 1.19, 1.13, 1.21, 1.17,
    1.14, 1.20, 1.12, 1.23, 1.16, 1.19, 1.13, 1.21, 1.15, 1.18,
    1.20, 1.15, 1.17, 1.22, 1.12, 1.19, 1.24, 1.14, 1.18, 1.21,
    1.16, 1.21, 1.13, 1.19, 1.15, 1.22, 1.17, 1.20, 1.14, 1.18,
    1.22, 1.15, 1.19, 1.24, 1.16, 1.20, 1.13, 1.23, 1.17, 1.21,
    1.18, 1.22, 1.15, 1.20, 1.25, 1.14, 1.21, 1.17, 1.24, 1.16,
    1.20, 1.14, 1.22, 1.18, 1.23, 1.16, 1.26, 1.19, 1.15, 1.21,
    1.17, 1.23, 1.14, 1.20, 1.16, 1.22, 1.18, 1.15, 1.21, 1.19,
    1.13, 1.20, 1.17, 1.22, 1.15, 1.19, 1.14, 1.21, 1.16, 1.18]
midob_checkbb = [
    0.55, 0.80, 0.38, 0.65, 0.92, 0.45, 0.70, 0.33, 0.60, 0.85,
    0.42, 0.68, 0.30, 0.75, 0.50, 0.88, 0.36, 0.62, 0.47, 0.78,
    0.35, 0.58, 0.72, 0.40, 0.66, 0.29, 0.54, 0.83, 0.44, 0.61,
    0.37, 0.70, 0.48, 0.26, 0.63, 0.41, 0.77, 0.52, 0.32, 0.59,
    0.45, 0.68, 0.28, 0.55, 0.39, 0.73, 0.50, 0.31, 0.62, 0.43,
    0.57, 0.34, 0.66, 0.24, 0.49, 0.71, 0.38, 0.60, 0.30, 0.53,
    0.44, 0.69, 0.33, 0.58, 0.80, 0.40, 0.64, 0.27, 0.51, 0.74,
    0.36, 0.62, 0.47, 0.85, 0.39, 0.56, 0.30, 0.67, 0.45, 0.78,
    0.52, 0.34, 0.70, 0.43, 0.88, 0.58, 0.38, 0.92, 0.49, 0.64,
    0.31, 0.57, 0.75, 0.42, 0.63, 0.35, 0.82, 0.50, 0.29, 0.68,
    0.46, 0.72, 0.37, 0.59, 0.28, 0.66, 0.41, 0.54, 0.33, 0.61]
midob_checkbb_b = [
    0.42, 0.63, 0.51, 0.77, 0.36, 0.58, 0.47, 0.69, 0.40, 0.55,
    0.66, 0.39, 0.57, 0.44, 0.71, 0.34, 0.60, 0.52, 0.81, 0.38,
    0.63, 0.46, 0.37, 0.55, 0.49, 0.74, 0.41, 0.48, 0.66, 0.36,
    0.52, 0.44, 0.61, 0.57, 0.38, 0.67, 0.45, 0.35, 0.62, 0.48,
    0.60, 0.37, 0.53, 0.70, 0.46, 0.42, 0.64, 0.55, 0.36, 0.58,
    0.41, 0.62, 0.48, 0.55, 0.36, 0.44, 0.59, 0.33, 0.65, 0.40,
    0.57, 0.38, 0.61, 0.45, 0.50, 0.66, 0.35, 0.54, 0.62, 0.42,
    0.68, 0.41, 0.58, 0.52, 0.63, 0.44, 0.71, 0.39, 0.56, 0.48,
    0.37, 0.66, 0.55, 0.61, 0.47, 0.80, 0.59, 0.44, 0.75, 0.40,
    0.62, 0.45, 0.38, 0.69, 0.51, 0.58, 0.41, 0.64, 0.56, 0.43,
    0.58, 0.40, 0.63, 0.35, 0.52, 0.45, 0.69, 0.38, 0.57, 0.47]
midob_total_out_doy = [20.853, 21.055, 21.107, 21.389, 21.478, 20.995, 21.564, 21.735, 21.083, 21.452, 21.659]
midob_total_out_val = [7.97, 7.39, 7.79, 7.48, 7.43, 6.29, 6.21, 6.29, 6.39, 7.15, 7.08]
midob_checkbb_out_doy = [20.853, 21.107, 21.052, 21.389, 21.348, 21.525, 20.995, 21.735, 21.478, 21.452, 21.166]
midob_checkbb_out_val = [1.62, 1.64, 1.20, 1.28, 2.17, 2.05, 0.10, 0.10, 1.22, 0.96, 0.94]
midob_src_out_doy = [21.083]
midob_src_out_val = [0.88]

# Record start late (s)
record_late = [
    0.04, 0.05, 0.03, 0.05, 0.04, 0.06, 0.03, 0.05, 0.04, 0.03,
    0.05, 0.04, 0.06, 0.03, 0.04, 0.05, 0.03, 0.04, 0.06, 0.04,
    0.03, 0.05, 0.04, 0.06, 0.03, 0.05, 0.04, 0.03, 0.05, 0.04,
    0.06, 0.03, 0.05, 0.04, 0.03, 0.05, 0.06, 0.04, 0.03, 0.05,
    0.04, 0.03, 0.05, 0.04, 0.06, 0.03, 0.05, 0.04, 0.07, 0.03,
    0.05, 0.04, 0.03, 0.06, 0.04, 0.05, 0.03, 0.04, 0.05, 0.03,
    0.04, 0.06, 0.03, 0.05, 0.04, 0.03, 0.05, 0.04, 0.06, 0.03,
    0.05, 0.04, 0.03, 0.05, 0.04, 0.06, 0.03, 0.05, 0.04, 0.03,
    0.05, 0.04, 0.06, 0.03, 0.05, 0.04, 0.07, 0.03, 0.05, 0.04,
    0.03, 0.05, 0.04, 0.06, 0.03, 0.05, 0.04, 0.03, 0.05, 0.04,
    0.07, 0.03, 0.05, 0.04, 0.06, 0.03, 0.05, 0.04, 0.03, 0.05]
record_late_b = [
    0.05, 0.03, 0.04, 0.06, 0.03, 0.05, 0.04, 0.03, 0.05, 0.04,
    0.03, 0.06, 0.04, 0.05, 0.03, 0.04, 0.06, 0.03, 0.05, 0.04,
    0.05, 0.03, 0.06, 0.04, 0.05, 0.03, 0.04, 0.05, 0.03, 0.06,
    0.04, 0.05, 0.03, 0.04, 0.06, 0.03, 0.05, 0.04, 0.05, 0.03,
    0.06, 0.04, 0.03, 0.05, 0.04, 0.06, 0.03, 0.05, 0.04, 0.05,
    0.03, 0.05, 0.04, 0.03, 0.06, 0.04, 0.05, 0.03, 0.04, 0.06,
    0.05, 0.03, 0.04, 0.06, 0.03, 0.05, 0.04, 0.06, 0.03, 0.05,
    0.04, 0.03, 0.06, 0.04, 0.05, 0.03, 0.05, 0.04, 0.03, 0.06,
    0.04, 0.05, 0.03, 0.06, 0.04, 0.05, 0.03, 0.04, 0.06, 0.05,
    0.04, 0.03, 0.05, 0.04, 0.06, 0.03, 0.05, 0.04, 0.07, 0.03,
    0.05, 0.04, 0.06, 0.03, 0.05, 0.04, 0.03, 0.06, 0.04, 0.05]
record_out_doy = [20.757, 20.774, 21.078, 21.193, 21.549, 21.561, 21.566]
record_out_val = [0.12, 0.16, 0.29, 0.11, 0.20, 0.43, 0.235]

TITLES = [
    "Slew Analysis:\nnslew_total=985; nlate=23; nmissed=0",
    "Fixed Insterscan Delays: b~total;\nr~checkmk5; g~setupsx; c~source=; m~rcdoff; k~postob",
    "Preob Delays: b~total;\nc~preob_src",
    "Midob Delays: b~total;\nr~mk5setcl; g~checkbb; c~midob_src; m~tracking",
    "b~preob late (0)",
    "b~record start late (984)",
]
SUPTITLE = "FSLOG Analysis:  session=vr2201; station=XX"
XLABEL = "doy (days of 2022)"
YLABEL = "time interval (s)"

# matplotlib single-letter colours (seaborn would remap the short codes)
C_B, C_G, C_R, C_C, C_M, C_K = "#0000ff", "#008000", "#ff0000", "#00bfbf", "#bf00bf", "#000000"
C_SLEW = "#1f77b4"

# ---------------- style ----------------
sns.set_theme(style="ticks", rc={
    "axes.edgecolor": "#333333",
    "axes.linewidth": 0.9,
    "xtick.major.size": 2.8,
    "ytick.major.size": 2.8,
    "xtick.major.width": 0.7,
    "ytick.major.width": 0.7,
    "xtick.labelsize": 8.3,
    "ytick.labelsize": 8.3,
    "axes.labelsize": 8.3,
    "axes.titlesize": 10.2,
    "text.color": "#1a1a1a",
    "axes.labelcolor": "#1a1a1a",
    "xtick.color": "#1a1a1a",
    "ytick.color": "#1a1a1a",
})
plt.rcParams["font.family"] = ["DejaVu Sans"]

fig = plt.figure(figsize=(12.85, 7.19), dpi=100)
W, H = 1285.0, 719.0
col_left = [120 / W, 504 / W, 886.5 / W]
row_bottom = [1 - 344 / H, 1 - 647 / H]
aw, ah = 320 / W, 252 / H

axes = []
for r in range(2):
    for c in range(3):
        ax = fig.add_axes([col_left[c], row_bottom[r], aw, ah])
        for s in ax.spines.values():
            s.set_visible(True)
        axes.append(ax)

S_BAND = 20
S_DOT = 18
XLIM = (20.758, 21.754)


def dots(ax, x, y, color, s=S_BAND):
    sns.scatterplot(x=x, y=y, color=color, s=s, linewidth=0, ax=ax, legend=False)


T = np.array(scan_doy)
T2 = np.array(scan_doy_b)


def band(ax, first, second, color):
    dots(ax, np.concatenate([T, T2]), np.concatenate([first, second]), color)


# Slew
ax = axes[0]
dots(ax, np.concatenate([T, T, T2, slew_late_doy]),
     np.concatenate([slew_band1, slew_band2, slew_band3, slew_late_val]), C_SLEW, s=S_DOT)
ax.axhline(0, color="black", linestyle="--", linewidth=1.2, dashes=(4, 2.5))
ax.set_ylim(-40, 10)
ax.set_yticks([-40, -30, -20, -10, 0, 10])

# Fixed
ax = axes[1]
band(ax, fixed_total_hi, fixed_total_hi_b, C_B)
band(ax, fixed_total_lo, fixed_total_lo_b, C_B)
dots(ax, fixed_total_out_doy, fixed_total_out_val, C_B, s=S_DOT)
dots(ax, fixed_checkmk5_doy, fixed_checkmk5_val, C_R, s=S_DOT)
band(ax, fixed_setupsx, fixed_setupsx_b, C_G)
band(ax, fixed_source_hi, fixed_source_hi_b, C_C)
band(ax, fixed_rcdoff, fixed_rcdoff_b, C_M)
band(ax, fixed_source_lo, fixed_source_lo_b, C_C)
dots(ax, fixed_source_out_doy, fixed_source_out_val, C_C, s=S_DOT)
dots(ax, T, fixed_postob, C_K)
ax.set_ylim(0, 12)
ax.set_yticks([0, 2, 4, 6, 8, 10, 12])

# Preob
ax = axes[2]
band(ax, preob_total, preob_total_b, C_B)
band(ax, preob_src, preob_src_b, C_B)
ax.set_ylim(0, 3)
ax.set_yticks([0, 0.5, 1.0, 1.5, 2.0, 2.5, 3.0])

# Midob
ax = axes[3]
band(ax, midob_total, midob_total_b, C_B)
dots(ax, midob_total_out_doy, midob_total_out_val, C_B, s=S_DOT)
band(ax, midob_mk5setcl, midob_mk5setcl_b, C_R)
band(ax, midob_tracking, midob_tracking_b, C_M)
band(ax, midob_src, midob_src_b, C_C)
dots(ax, midob_src_out_doy, midob_src_out_val, C_C, s=S_DOT)
band(ax, midob_checkbb, midob_checkbb_b, C_G)
dots(ax, midob_checkbb_out_doy, midob_checkbb_out_val, C_G, s=S_DOT)
ax.set_ylim(0, 8)

# Preob late (empty)
ax = axes[4]
ax.set_xlim(-0.055, 0.055)
ax.set_ylim(-0.055, 0.055)
ax.set_xticks([-0.04, -0.02, 0.0, 0.02, 0.04])
ax.set_yticks([-0.04, -0.02, 0.0, 0.02, 0.04])

# Record start late
ax = axes[5]
band(ax, record_late, record_late_b, C_B)
dots(ax, record_out_doy, record_out_val, C_B, s=S_DOT)
ax.set_ylim(0, 2)
ax.set_yticks([0, 0.25, 0.5, 0.75, 1.0, 1.25, 1.5, 1.75, 2.0])
ax.yaxis.set_major_formatter(matplotlib.ticker.FormatStrFormatter("%.2f"))

for i, ax in enumerate(axes):
    if i != 4:
        ax.set_xlim(*XLIM)
        ax.set_xticks([20.8, 21.0, 21.2, 21.4, 21.6])
        ax.set_xticklabels(["20.8", "21.0", "21.2", "21.4", "21.6"])
    ax.set_title(TITLES[i], pad=4.5, linespacing=1.1)
    if i >= 3:
        ax.set_xlabel(XLABEL, labelpad=2.5)
    if i in (0, 3):
        ax.set_ylabel(YLABEL, labelpad=3)

fig.text(0.5, 1 - 25 / H, SUPTITLE, ha="center", va="center", fontsize=10.2)

# frame lines of the screenshot (top and left)
fig.add_artist(Line2D([8.5 / W, 1.0], [1 - 6 / H, 1 - 6 / H], transform=fig.transFigure,
                      color="black", linewidth=1.8))
fig.add_artist(Line2D([8.5 / W, 8.5 / W], [0.0, 1 - 6 / H], transform=fig.transFigure,
                      color="black", linewidth=1.8))

fig.savefig("out.png", dpi=100)
